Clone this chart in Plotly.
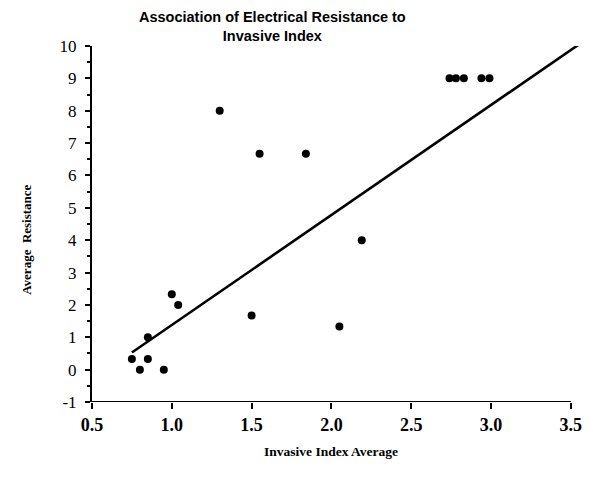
import plotly.graph_objects as go

# Data
invasive_index = [0.75, 0.80, 0.85, 0.85, 0.95, 1.00, 1.04, 1.30, 1.50, 1.55,
                  1.84, 2.05, 2.19, 2.74, 2.78, 2.83, 2.94, 2.99]
avg_resistance = [0.33, 0.0, 0.33, 1.0, 0.0, 2.33, 2.0, 8.0, 1.67, 6.67,
                  6.67, 1.33, 4.0, 9.0, 9.0, 9.0, 9.0, 9.0]
fit_x = [0.75, 3.56]
fit_y = [0.53, 10.08]

x_ticks = [0.5, 1.0, 1.5, 2.0, 2.5, 3.0, 3.5]
x_tick_labels = ["0.5", "1.0", "1.5", "2.0", "2.5", "3.0", "3.5"]
y_ticks = list(range(-1, 11))
y_tick_labels = [str(v) for v in y_ticks]

fig = go.Figure()
fig.add_trace(go.Scatter(x=fit_x, y=fit_y, mode="lines",
                         line=dict(color="black", width=2.6),
                         hoverinfo="skip", showlegend=False))
fig.add_trace(go.Scatter(x=invasive_index, y=avg_resistance, mode="markers",
                         marker=dict(color="black", size=8),
                         cliponaxis=False, showlegend=False))

# x-axis baseline from 0.5 to 3.5 at y = -1
fig.add_shape(type="line", xref="x", yref="y", x0=x_ticks[0], x1=x_ticks[-1],
              y0=y_ticks[0], y1=y_ticks[0], line=dict(color="black", width=2))

PW, PH = 490, 356.3
fig.update_layout(
    width=585, height=476,
    margin=dict(l=84, r=11, t=38, b=82),
    paper_bgcolor="white", plot_bgcolor="white",
    showlegend=False,
    annotations=[
        dict(text="Association of Electrical Resistance to<br>Invasive Index",
             xref="paper", yref="paper", x=(272 - 92) / PW, y=1 + (46 - 26) / PH,
             xanchor="center", yanchor="middle", showarrow=False,
             font=dict(family="Liberation Sans", size=14.5, color="black", weight="bold")),
        dict(text="Average  Resistance", xref="paper", yref="paper",
             x=(27 - 92) / PW, y=(402.3 - 240) / PH, textangle=-90,
             xanchor="center", yanchor="middle", showarrow=False,
             font=dict(family="Liberation Serif", size=13, color="black", weight="bold")),
        dict(text="Invasive Index Average", xref="paper", yref="paper",
             x=(331 - 92) / PW, y=(402.3 - 452) / PH,
             xanchor="center", yanchor="middle", showarrow=False,
             font=dict(family="Liberation Serif", size=13.5, color="black", weight="bold")),
    ],
)

fig.update_xaxes(range=[0.5, 3.57], tickvals=x_ticks, ticktext=x_tick_labels,
                 showgrid=False, zeroline=False, showline=False,
                 ticks="outside", ticklen=6, tickwidth=2, tickcolor="black",
                 tickfont=dict(family="Liberation Serif", size=18, color="black", weight="bold"))
fig.update_yaxes(range=[-1, 10], tickvals=y_ticks, ticktext=y_tick_labels,
                 showgrid=False, zeroline=False, showline=True, linecolor="black", linewidth=2,
                 ticks="outside", ticklen=5, tickwidth=2, tickcolor="black",
                 ticklabelstandoff=5,
                 minor=dict(dtick=0.5, tick0=-1, ticks="outside", ticklen=3, tickwidth=2, tickcolor="black"),
                 tickfont=dict(family="Liberation Serif", size=17, color="black"))

fig.write_html("out.html")
